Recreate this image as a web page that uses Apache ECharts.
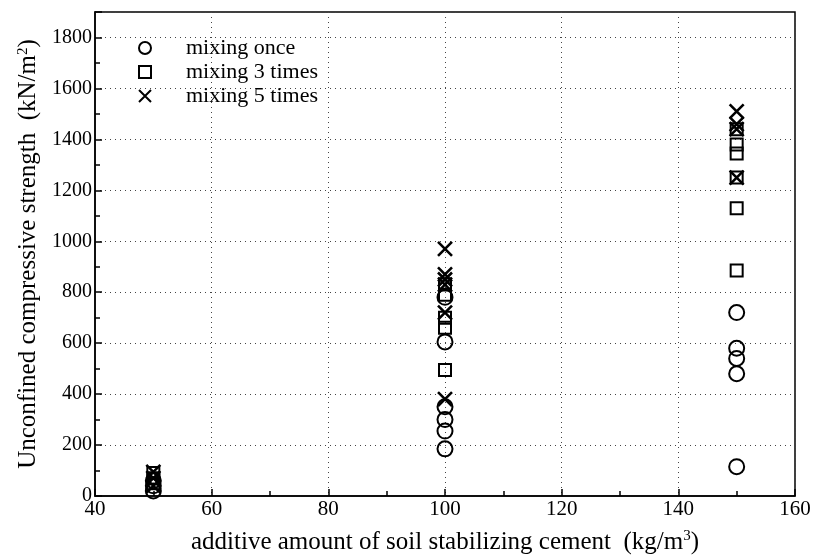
<!DOCTYPE html>
<html><head><meta charset="utf-8">
<script src="https://cdn.jsdelivr.net/npm/echarts@6/dist/echarts.min.js"></script>
<style>html,body{margin:0;padding:0;background:#fff}#c{width:814px;height:556px}</style>
</head><body><div id="c"></div>
<script>
const seriesNames = ['mixing once', 'mixing 3 times', 'mixing 5 times'];
const onceX = [50,50,50,100,100,100,100,100,100,150,150,150,150,150];
const onceY = [20,40,60,185,255,300,350,605,780,115,480,540,580,720];
const threeX = [50,50,50,100,100,100,100,100,150,150,150,150,150,150];
const threeY = [50,70,90,495,660,700,790,830,885,1130,1250,1345,1380,1440];
const fiveX = [50,50,50,100,100,100,100,100,100,150,150,150,150];
const fiveY = [40,70,95,380,720,830,850,870,970,1250,1440,1460,1510];
const xTicks = [40,60,80,100,120,140,160];
const yTicks = [0,200,400,600,800,1000,1200,1400,1600,1800];

const pairs = (xs, ys) => xs.map((x, i) => [x, ys[i]]);
const font = 'Liberation Serif';
const chart = echarts.init(document.getElementById('c'));
const mk = (name, xs, ys, symbol, size, bw) => ({
  name, type: 'scatter', data: pairs(xs, ys), symbol, symbolSize: size,
  itemStyle: { color: 'transparent', borderColor: '#000', borderWidth: bw, opacity: 1 },
  emphasis: { disabled: true }
});
const rich = { a: { fontFamily: font, fontSize: 25, color: '#000' }, s: { fontFamily: font, fontSize: 15, color: '#000', verticalAlign: 'top', padding: [0, 0, 12, 0] } };
chart.setOption({
  animation: false,
  textStyle: { fontFamily: font },
  grid: { left: 95, right: 19, top: 12, bottom: 60, outerBoundsMode: 'none', containLabel: false, show: true, borderColor: '#000', borderWidth: 1.5, backgroundColor: 'transparent' },
  legend: {
    left: 133, top: 32, orient: 'vertical', itemGap: 2, itemWidth: 12, itemHeight: 12,
    textStyle: { fontFamily: font, fontSize: 22, color: '#000', padding: [0, 0, 0, 30] },
    data: seriesNames
  },
  xAxis: {
    type: 'value', min: 40, max: 160, interval: 20,
    name: '{a|additive amount of soil stabilizing cement  (kg/m}{s|3}{a|)}',
    nameLocation: 'middle', nameGap: 33,
    nameTextStyle: { rich },
    axisLine: { lineStyle: { color: '#000', width: 1.5 } },
    axisTick: { inside: true, length: 7, lineStyle: { color: '#000', width: 1.5 } },
    minorTick: { show: true, splitNumber: 2, length: 5, lineStyle: { color: '#000', width: 1.5 } },
    axisLabel: { color: '#000', fontSize: 21, fontFamily: font, margin: 3, customValues: xTicks },
    splitLine: { show: true, lineStyle: { type: [1, 4], color: '#444', width: 1 } }
  },
  yAxis: {
    type: 'value', min: 0, max: 1900, interval: 200,
    name: '{a|Unconfined compressive strength  (kN/m}{s|2}{a|)}',
    nameLocation: 'middle', nameGap: 50, nameRotate: 90,
    nameTextStyle: { rich },
    axisLine: { lineStyle: { color: '#000', width: 1.5 } },
    axisTick: { inside: true, length: 7, lineStyle: { color: '#000', width: 1.5 } },
    minorTick: { show: true, splitNumber: 2, length: 5, lineStyle: { color: '#000', width: 1.5 } },
    axisLabel: { color: '#000', fontSize: 20, fontFamily: font, margin: 3, formatter: v => yTicks.includes(v) ? String(v) : '' },
    splitLine: { show: true, lineStyle: { type: [1, 4], color: '#444', width: 1 } }
  },
  series: [
    mk(seriesNames[0], onceX, onceY, 'circle', 15, 2),
    mk(seriesNames[1], threeX, threeY, 'rect', 12, 2),
    mk(seriesNames[2], fiveX, fiveY, 'path://M0,0L10,10M10,0L0,10', 14, 2.6)
  ]
});
</script></body></html>
